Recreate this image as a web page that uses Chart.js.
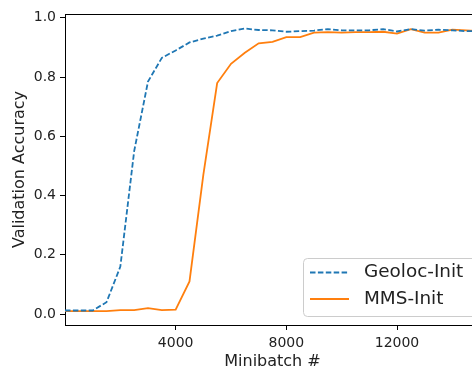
<!DOCTYPE html>
<html>
<head>
<meta charset="utf-8">
<script src="https://cdn.jsdelivr.net/npm/chart.js@4/dist/chart.umd.min.js"></script>
<style>
  html, body { margin: 0; padding: 0; background: #fff; overflow: hidden; }
  /* la figura original esta recortada a la derecha: el lienzo es un poco mas ancho que la ventana */
  #wrap { width: 480px; height: 369px; }
</style>
</head>
<body>
<div id="wrap"><canvas id="grafico"></canvas></div>
<script>
// Datos
const pasos = [0, 500, 1000, 1500, 2000, 2500, 3000, 3500, 4000, 4500, 5000, 5500, 6000, 6500, 7000, 7500,
  8000, 8500, 9000, 9500, 10000, 10500, 11000, 11500, 12000, 12500, 13000, 13500, 14000, 14500, 15000];
const geoloc = [0.012, 0.012, 0.012, 0.04, 0.16, 0.55, 0.785, 0.865, 0.89, 0.917, 0.93, 0.94, 0.955, 0.964, 0.959, 0.958,
  0.953, 0.955, 0.957, 0.962, 0.958, 0.958, 0.958, 0.962, 0.954, 0.962, 0.957, 0.96, 0.958, 0.955, 0.955];
const mms = [0.01, 0.01, 0.01, 0.01, 0.013, 0.013, 0.02, 0.013, 0.015, 0.11, 0.47, 0.78, 0.845, 0.882, 0.914, 0.919,
  0.935, 0.935, 0.95, 0.952, 0.95, 0.952, 0.952, 0.953, 0.947, 0.962, 0.95, 0.95, 0.96, 0.958, 0.955];
const etiquetas = ['Geoloc-Init', 'MMS-Init'];
const ticksX = [4000, 8000, 12000];
const ticksY = [0, 0.2, 0.4, 0.6, 0.8, 1.0];

const colores = ['#1f77b4', '#ff7f0e'];
const fuente = 'DejaVu Sans';

function puntos(valores) {
  return pasos.map((p, i) => ({ x: p, y: valores[i] }));
}

// Plugin: borde superior y leyenda estilo matplotlib
const extras = {
  id: 'extras',
  afterDraw(chart) {
    const ctx = chart.ctx;
    const area = chart.chartArea;
    ctx.save();
    ctx.strokeStyle = '#000';
    ctx.lineWidth = 1;
    ctx.beginPath();
    ctx.moveTo(area.left, area.top + 0.5);
    ctx.lineTo(area.right, area.top + 0.5);
    ctx.stroke();

    // caja de leyenda
    const bx = 303.5, by = 258.5, bw = 180, bh = 58, r = 4;
    ctx.globalAlpha = 0.8;
    ctx.fillStyle = '#fff';
    ctx.strokeStyle = '#cccccc';
    ctx.beginPath();
    ctx.roundRect(bx, by, bw, bh, r);
    ctx.fill();
    ctx.globalAlpha = 1;
    ctx.stroke();

    const filas = [272.5, 299];
    chart.data.datasets.forEach((ds, i) => {
      const y = filas[i];
      ctx.strokeStyle = ds.borderColor;
      ctx.lineWidth = ds.borderWidth;
      ctx.setLineDash(ds.borderDash || []);
      ctx.beginPath();
      ctx.moveTo(310, y);
      ctx.lineTo(349, y);
      ctx.stroke();
      ctx.setLineDash([]);
      ctx.fillStyle = '#222';
      ctx.font = '18.4px "' + fuente + '"';
      ctx.textBaseline = 'middle';
      ctx.textAlign = 'left';
      ctx.fillText(ds.label, 364, y);
    });
    ctx.restore();
  }
};

const config = {
  type: 'line',
  data: {
    datasets: [{
      label: etiquetas[0],
      data: puntos(geoloc),
      borderColor: colores[0],
      backgroundColor: colores[0],
      borderWidth: 1.8,
      borderDash: [5.5, 2.4],
      pointRadius: 0,
      tension: 0
    }, {
      label: etiquetas[1],
      data: puntos(mms),
      borderColor: colores[1],
      backgroundColor: colores[1],
      borderWidth: 1.8,
      pointRadius: 0,
      tension: 0
    }]
  },
  options: {
    responsive: true,
    maintainAspectRatio: false,
    animation: false,
    layout: { padding: { left: 0, right: 0, top: 14, bottom: 0 } },
    plugins: {
      legend: { display: false },
      tooltip: { enabled: false }
    },
    scales: {
      x: {
        type: 'linear',
        min: 0,
        max: 15000,
        afterBuildTicks: (scale) => { scale.ticks = ticksX.map(v => ({ value: v })); },
        afterFit: (scale) => { scale.height = 44; },
        grid: { drawOnChartArea: false, drawTicks: true, tickLength: 5, color: '#000' },
        border: { display: true, color: '#000', width: 1 },
        ticks: { color: '#222', font: { family: fuente, size: 14 }, padding: 5, maxRotation: 0, callback: (v) => String(v) },
        title: { display: true, text: 'Minibatch #', color: '#222', font: { family: fuente, size: 16 }, padding: { top: 0, bottom: -2 } }
      },
      y: {
        min: -0.037,
        max: 1.013,
        afterBuildTicks: (scale) => { scale.ticks = ticksY.map(v => ({ value: v })); },
        afterFit: (scale) => { scale.width = 65; },
        grid: { drawOnChartArea: false, drawTicks: true, tickLength: 5, color: '#000' },
        border: { display: true, color: '#000', width: 1 },
        ticks: { color: '#222', font: { family: fuente, size: 14 }, padding: 4, callback: (v) => v.toFixed(1) },
        title: { display: true, text: 'Validation Accuracy', color: '#222', font: { family: fuente, size: 16 }, padding: { top: 10, bottom: 0 } }
      }
    }
  },
  plugins: [extras]
};

new Chart(document.getElementById('grafico'), config);
</script>
</body>
</html>
